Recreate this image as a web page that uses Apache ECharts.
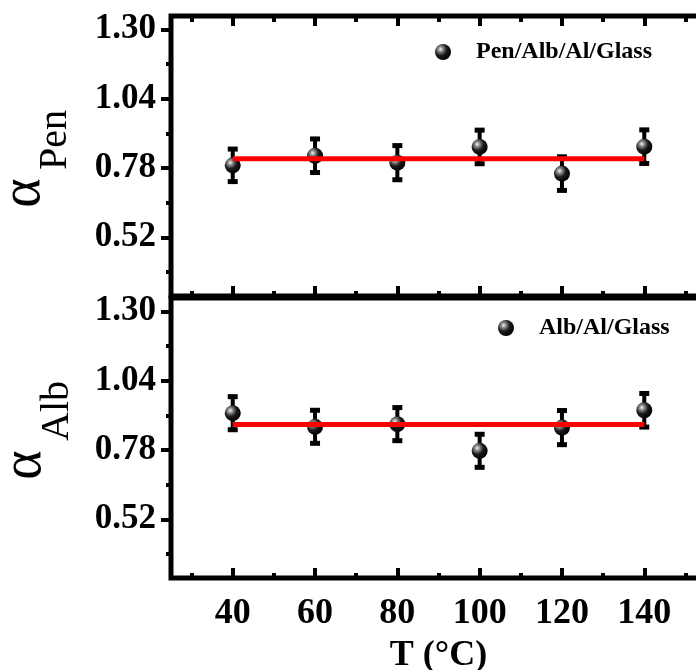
<html>
<head>
<meta charset="utf-8">
<title>alpha vs T</title>
<style>
  html, body, #main { margin: 0; padding: 0; width: 696px; height: 670px; background: #fff; }
</style>
<script src="https://cdn.jsdelivr.net/npm/echarts@6/dist/echarts.min.js"></script>
</head>
<body>
<div id="main"></div>
<script>
// data
var temps = [40, 60, 80, 100, 120, 140];
var alphaPen = [0.790, 0.826, 0.800, 0.859, 0.759, 0.860];
var errPen = [0.061, 0.063, 0.064, 0.063, 0.063, 0.063];
var fitPen = [0.815, 0.815];
var alphaAlb = [0.918, 0.867, 0.877, 0.777, 0.864, 0.929];
var errAlb = [0.062, 0.062, 0.062, 0.062, 0.064, 0.063];
var fitAlb = [0.876, 0.876];
var fitRange = [40, 140];

// ticks
var xMajor = [40, 60, 80, 100, 120, 140];
var xMinor = [30, 50, 70, 90, 110, 130, 150];
var yMajor = [0.52, 0.78, 1.04, 1.30];
var yMinor = [0.39, 0.65, 0.91, 1.17];

var FONT = 'Liberation Serif';
var chart = echarts.init(document.getElementById('main'));

var sphere = new echarts.graphic.RadialGradient(0.35, 0.33, 0.7, [
    { offset: 0, color: '#f4f4f4' },
    { offset: 0.22, color: '#8e8e8e' },
    { offset: 0.55, color: '#1c1c1c' },
    { offset: 1, color: '#000' }
]);

function errorBar(params, api) {
    var x = api.value(0);
    var hi = api.coord([x, api.value(2)]);
    var lo = api.coord([x, api.value(1)]);
    var w = 10, h = 5;
    return {
        type: 'group',
        children: [
            { type: 'line', shape: { x1: hi[0], y1: hi[1], x2: lo[0], y2: lo[1] }, style: { stroke: '#000', lineWidth: 4 } },
            { type: 'rect', shape: { x: hi[0] - w / 2, y: hi[1] - h / 2, width: w, height: h }, style: { fill: '#000' } },
            { type: 'rect', shape: { x: lo[0] - w / 2, y: lo[1] - h / 2, width: w, height: h }, style: { fill: '#000' } }
        ]
    };
}

function barData(vals, errs) {
    return temps.map(function (t, i) { return [t, vals[i] - errs[i], vals[i] + errs[i]]; });
}
function pts(vals) {
    return temps.map(function (t, i) { return [t, vals[i]]; });
}
function fit(vals) {
    return fitRange.map(function (t, i) { return [t, vals[i]]; });
}

function xAx(grid, pos, ticks, len, extra) {
    var a = {
        type: 'value', gridIndex: grid, position: pos, min: 25, max: 155,
        axisLine: { show: false },
        splitLine: { show: false },
        axisTick: { show: true, inside: true, length: len, customValues: ticks, lineStyle: { color: '#000', width: 4 } },
        axisLabel: { show: false }
    };
    return Object.assign(a, extra || {});
}
function yAx(grid, ticks, len, labels) {
    return {
        type: 'value', gridIndex: grid, position: 'left', min: 0.30, max: 1.35,
        axisLine: { show: false },
        splitLine: { show: false },
        axisTick: { show: true, inside: false, length: len, customValues: ticks, lineStyle: { color: '#000', width: 4 } },
        axisLabel: labels ? {
            show: true, customValues: ticks, margin: 15,
            fontFamily: FONT, fontWeight: 'bold', fontSize: 35, color: '#000',
            formatter: function (v) { return v.toFixed(2); }
        } : { show: false }
    };
}

// right edge runs past the canvas, as in the cropped original
var gridBox = { left: 171, width: 535, height: 280, outerBoundsMode: 'none', containLabel: false };

var option = {
    backgroundColor: '#fff',
    animation: false,
    grid: [
        Object.assign({ top: 16, show: true, borderColor: '#000', borderWidth: 5, backgroundColor: 'transparent' }, gridBox),
        Object.assign({ top: 16, show: false }, gridBox),
        Object.assign({ top: 298, show: true, borderColor: '#000', borderWidth: 5, backgroundColor: 'transparent' }, gridBox),
        Object.assign({ top: 298, show: false }, gridBox)
    ],
    xAxis: [
        xAx(0, 'bottom', xMajor, 10),
        xAx(0, 'top', xMajor, 10),
        xAx(1, 'bottom', xMinor, 5),
        xAx(1, 'top', xMinor, 6),
        xAx(2, 'bottom', xMajor, 10, {
            axisLabel: {
                show: true, customValues: xMajor, margin: 18,
                fontFamily: FONT, fontWeight: 'bold', fontSize: 36, color: '#000'
            },
            name: 'T (°C)', nameLocation: 'middle', nameGap: 60,
            nameTextStyle: { fontFamily: FONT, fontWeight: 'bold', fontSize: 36, color: '#000' }
        }),
        xAx(3, 'bottom', xMinor, 5)
    ],
    yAxis: [
        yAx(0, yMajor, 10, true),
        yAx(1, yMinor, 5, false),
        yAx(2, yMajor, 10, true),
        yAx(3, yMinor, 5, false)
    ],
    legend: [
        {
            data: ['Pen/Alb/Al/Glass'], left: 435, top: 40, padding: 0,
            itemWidth: 56, itemHeight: 16, icon: 'circle',
            textStyle: { fontFamily: FONT, fontWeight: 'bold', fontSize: 24, color: '#000' }
        },
        {
            data: ['Alb/Al/Glass'], left: 498, top: 316, padding: 0,
            itemWidth: 56, itemHeight: 16, icon: 'circle',
            textStyle: { fontFamily: FONT, fontWeight: 'bold', fontSize: 24, color: '#000' }
        }
    ],
    graphic: [
        { type: 'text', x: 24, y: 193, rotation: Math.PI / 2, style: { text: 'α', fontFamily: FONT, fontSize: 56, fill: '#000', align: 'center', verticalAlign: 'middle' } },
        { type: 'text', x: 55, y: 140, rotation: Math.PI / 2, style: { text: 'Pen', fontFamily: FONT, fontSize: 40, fill: '#000', align: 'center', verticalAlign: 'middle' } },
        { type: 'text', x: 25, y: 465, rotation: Math.PI / 2, style: { text: 'α', fontFamily: FONT, fontSize: 56, fill: '#000', align: 'center', verticalAlign: 'middle' } },
        { type: 'text', x: 57, y: 411, rotation: Math.PI / 2, style: { text: 'Alb', fontFamily: FONT, fontSize: 40, fill: '#000', align: 'center', verticalAlign: 'middle' } }
    ],
    series: [
        {
            type: 'custom', name: 'errPen', xAxisIndex: 0, yAxisIndex: 0, z: 2,
            renderItem: errorBar, encode: { x: 0, y: [1, 2] }, data: barData(alphaPen, errPen)
        },
        {
            type: 'scatter', name: 'Pen/Alb/Al/Glass', xAxisIndex: 0, yAxisIndex: 0, z: 3,
            symbol: 'circle', symbolSize: 16, itemStyle: { color: sphere, opacity: 1 }, data: pts(alphaPen)
        },
        {
            type: 'line', name: 'fitPen', xAxisIndex: 0, yAxisIndex: 0, z: 4,
            showSymbol: false, lineStyle: { color: '#ff0000', width: 5 }, data: fit(fitPen)
        },
        {
            type: 'custom', name: 'errAlb', xAxisIndex: 4, yAxisIndex: 2, z: 2,
            renderItem: errorBar, encode: { x: 0, y: [1, 2] }, data: barData(alphaAlb, errAlb)
        },
        {
            type: 'scatter', name: 'Alb/Al/Glass', xAxisIndex: 4, yAxisIndex: 2, z: 3,
            symbol: 'circle', symbolSize: 16, itemStyle: { color: sphere, opacity: 1 }, data: pts(alphaAlb)
        },
        {
            type: 'line', name: 'fitAlb', xAxisIndex: 4, yAxisIndex: 2, z: 4,
            showSymbol: false, lineStyle: { color: '#ff0000', width: 5 }, data: fit(fitAlb)
        }
    ]
};

chart.setOption(option);
</script>
</body>
</html>
